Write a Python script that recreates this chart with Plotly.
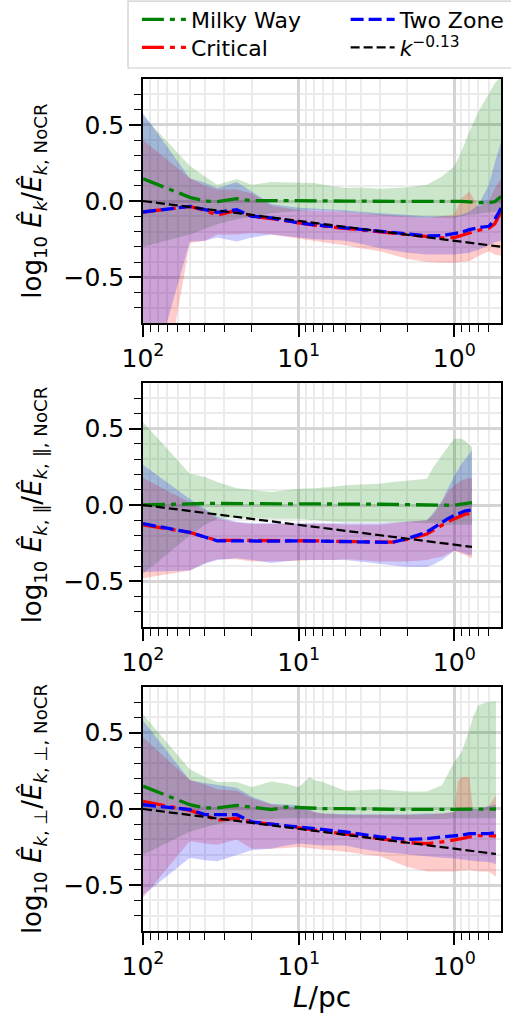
import plotly.graph_objects as go

# ---------------- data ----------------
# Panel 1: total
L1 = [100, 50, 40, 33.3, 25, 20, 15, 10, 8, 6, 5, 4, 3, 2, 1.5, 1.2, 1.0, 0.9, 0.8, 0.7, 0.6, 0.55, 0.5]
mw1 = [0.146, 0.024, 0.0, -0.004, 0.015, 0.002, 0.003, 0.004, 0.002, 0.0, -0.001, -0.002, -0.003, -0.002, -0.003, -0.002, -0.003, -0.003, -0.004, -0.010, -0.012, -0.005, 0.030]
mw1_hi = [0.56, 0.23, 0.16, 0.107, 0.144, 0.107, 0.124, 0.12, 0.118, 0.096, 0.085, 0.088, 0.08, 0.09, 0.107, 0.16, 0.227, 0.325, 0.456, 0.587, 0.70, 0.77, 0.82]
mw1_lo = [-0.30, -0.22, -0.18, -0.15, -0.12, -0.10, -0.08, -0.065, -0.06, -0.065, -0.07, -0.08, -0.095, -0.105, -0.11, -0.11, -0.11, -0.10, -0.09, -0.08, -0.075, -0.07, -0.06]
crit1 = [-0.072, -0.035, -0.062, -0.092, -0.062, -0.10, -0.115, -0.146, -0.158, -0.172, -0.18, -0.192, -0.205, -0.222, -0.236, -0.242, -0.24, -0.228, -0.21, -0.192, -0.178, -0.15, -0.07]
crit1_hi = [0.40, 0.15, 0.10, 0.075, 0.075, 0.05, -0.03, -0.06, -0.065, -0.07, -0.07, -0.08, -0.09, -0.10, -0.11, -0.10, -0.09, 0.02, 0.063, -0.04, 0.0, 0.08, 0.15]
crit1_lo = [-2.0, -0.275, -0.26, -0.22, -0.22, -0.21, -0.22, -0.245, -0.26, -0.28, -0.29, -0.31, -0.33, -0.38, -0.40, -0.405, -0.405, -0.40, -0.395, -0.36, -0.33, -0.35, -0.36]
tz1 = [-0.072, -0.035, -0.057, -0.074, -0.057, -0.10, -0.11, -0.144, -0.155, -0.168, -0.177, -0.19, -0.199, -0.216, -0.229, -0.227, -0.216, -0.205, -0.188, -0.175, -0.166, -0.122, -0.046]
tz1_hi = [0.576, 0.15, 0.12, 0.085, 0.124, 0.06, -0.02, -0.045, -0.05, -0.06, -0.06, -0.07, -0.08, -0.09, -0.10, -0.10, -0.10, -0.09, -0.07, -0.024, 0.107, 0.25, 0.39]
tz1_lo = [-1.35, -0.265, -0.26, -0.24, -0.265, -0.24, -0.22, -0.24, -0.25, -0.255, -0.26, -0.28, -0.31, -0.34, -0.35, -0.35, -0.35, -0.345, -0.34, -0.32, -0.29, -0.27, -0.26]
pl1 = [0.0, -0.30]          # k^-0.13 reference line values at L1 ends

# Panel 2: parallel
L2 = [100, 50, 40, 33.3, 25, 20, 15, 10, 8, 6, 5, 4, 3, 2.5, 2, 1.5, 1.36, 1.2, 1.1, 1.0, 0.9, 0.85, 0.77]
mw2 = [0.0, 0.01, 0.01, 0.01, 0.01, 0.01, 0.008, 0.008, 0.006, 0.006, 0.006, 0.005, 0.005, 0.004, 0.002, 0.0, -0.002, -0.002, 0.0, -0.002, 0.005, 0.01, 0.015]
mw2_hi = [0.544, 0.205, 0.183, 0.15, 0.11, 0.10, 0.085, 0.107, 0.11, 0.12, 0.13, 0.135, 0.14, 0.15, 0.16, 0.172, 0.25, 0.33, 0.38, 0.435, 0.435, 0.42, 0.38]
mw2_lo = [-0.45, -0.2, -0.13, -0.09, -0.085, -0.085, -0.09, -0.09, -0.10, -0.11, -0.115, -0.115, -0.115, -0.115, -0.115, -0.12, -0.12, -0.13, -0.13, -0.13, -0.13, -0.13, -0.13]
crit2 = [-0.13, -0.18, -0.21, -0.232, -0.232, -0.232, -0.234, -0.232, -0.235, -0.238, -0.24, -0.243, -0.245, -0.243, -0.225, -0.19, -0.165, -0.13, -0.11, -0.09, -0.07, -0.06, -0.055]
crit2_hi = [0.177, 0.02, -0.035, -0.09, -0.115, -0.125, -0.125, -0.125, -0.125, -0.125, -0.13, -0.13, -0.13, -0.12, -0.11, -0.10, -0.06, 0.02, 0.085, 0.13, 0.16, 0.17, 0.177]
crit2_lo = [-0.48, -0.43, -0.38, -0.355, -0.355, -0.37, -0.37, -0.365, -0.36, -0.36, -0.355, -0.36, -0.37, -0.37, -0.37, -0.36, -0.35, -0.34, -0.32, -0.30, -0.32, -0.33, -0.35]
tz2 = [-0.122, -0.18, -0.21, -0.235, -0.235, -0.237, -0.237, -0.235, -0.237, -0.24, -0.242, -0.245, -0.247, -0.245, -0.22, -0.177, -0.15, -0.111, -0.09, -0.068, -0.045, -0.038, -0.033]
tz2_hi = [0.264, 0.04, -0.024, -0.079, -0.11, -0.12, -0.12, -0.12, -0.12, -0.12, -0.12, -0.12, -0.12, -0.115, -0.11, -0.10, -0.05, 0.03, 0.107, 0.19, 0.27, 0.30, 0.36]
tz2_lo = [-0.44, -0.43, -0.385, -0.36, -0.35, -0.36, -0.38, -0.36, -0.36, -0.36, -0.36, -0.37, -0.385, -0.395, -0.406, -0.406, -0.39, -0.36, -0.33, -0.30, -0.31, -0.32, -0.33]
pl2 = [0.0, -0.275]

# Panel 3: perpendicular
L3 = [100, 50, 40, 33.3, 25, 20, 15, 12, 10, 8.5, 8, 7, 5, 4, 3, 2, 1.5, 1.2, 1.0, 0.95, 0.9, 0.8, 0.76, 0.7, 0.6, 0.54]
mw3 = [0.15, 0.028, 0.007, 0.007, 0.024, 0.013, -0.004, 0.013, 0.009, 0.005, 0.005, 0.003, 0.002, 0.0, -0.002, -0.003, -0.003, -0.003, -0.002, -0.002, -0.002, -0.001, -0.001, 0.0, 0.0, 0.0]
mw3_hi = [0.62, 0.26, 0.21, 0.177, 0.177, 0.144, 0.18, 0.165, 0.142, 0.21, 0.19, 0.177, 0.12, 0.125, 0.13, 0.115, 0.115, 0.155, 0.31, 0.34, 0.37, 0.52, 0.60, 0.68, 0.705, 0.705]
mw3_lo = [-0.30, -0.15, -0.12, -0.10, -0.08, -0.07, -0.065, -0.06, -0.06, -0.06, -0.06, -0.06, -0.06, -0.06, -0.06, -0.065, -0.065, -0.065, -0.06, -0.06, -0.06, -0.06, -0.06, -0.06, -0.06, -0.06]
crit3 = [0.05, -0.009, -0.04, -0.074, -0.06, -0.085, -0.10, -0.113, -0.122, -0.13, -0.135, -0.142, -0.16, -0.175, -0.194, -0.22, -0.227, -0.216, -0.205, -0.2, -0.195, -0.183, -0.178, -0.175, -0.175, -0.177]
crit3_hi = [0.47, 0.19, 0.16, 0.13, 0.12, 0.07, 0.03, 0.02, 0.0, -0.01, -0.02, -0.03, -0.04, -0.04, -0.04, -0.04, -0.035, -0.03, -0.02, 0.18, 0.21, 0.21, 0.0, -0.01, 0.02, 0.09]
crit3_lo = [-0.58, -0.21, -0.227, -0.234, -0.20, -0.26, -0.26, -0.255, -0.25, -0.255, -0.26, -0.265, -0.28, -0.295, -0.31, -0.38, -0.41, -0.41, -0.41, -0.41, -0.405, -0.40, -0.405, -0.41, -0.41, -0.445]
tz3 = [0.028, -0.004, -0.037, -0.037, -0.037, -0.085, -0.096, -0.11, -0.118, -0.125, -0.13, -0.138, -0.15, -0.165, -0.183, -0.2, -0.194, -0.183, -0.177, -0.175, -0.172, -0.162, -0.162, -0.162, -0.162, -0.155]
tz3_hi = [0.58, 0.188, 0.17, 0.16, 0.14, 0.08, 0.035, 0.03, 0.024, 0.0, -0.02, -0.03, -0.035, -0.035, -0.035, -0.035, -0.03, -0.03, -0.02, -0.01, -0.01, -0.01, 0.0, 0.0, 0.02, 0.03]
tz3_lo = [-0.565, -0.32, -0.336, -0.343, -0.303, -0.27, -0.26, -0.24, -0.227, -0.23, -0.235, -0.24, -0.24, -0.26, -0.28, -0.30, -0.31, -0.32, -0.325, -0.33, -0.33, -0.336, -0.34, -0.345, -0.347, -0.36]
pl3 = [0.0, -0.295]

series_names = ["Milky Way", "Critical", "Two Zone", "<i>k</i><sup>\u22120.13</sup>"]
x_tick_vals = [100, 10, 1]
x_tick_text = ["10<sup>2</sup>", "10<sup>1</sup>", "10<sup>0</sup>"]
y_tick_vals = [-0.5, 0.0, 0.5]
y_tick_text = ["\u22120.5", "0.0", "0.5"]
y_titles = [
    "log<sub>10</sub> <i>\u00ca</i><sub><i>k</i></sub>/<i>\u00ca</i><sub><i>k</i>, NoCR</sub>",
    "log<sub>10</sub> <i>\u00ca</i><sub><i>k</i>, \u2225</sub>/<i>\u00ca</i><sub><i>k</i>, \u2225, NoCR</sub>",
    "log<sub>10</sub> <i>\u00ca</i><sub><i>k</i>, \u22a5</sub>/<i>\u00ca</i><sub><i>k</i>, \u22a5, NoCR</sub>",
]
x_title = "<i>L</i>/pc"

# ---------------- figure ----------------
FONT = "DejaVu Sans"
GREEN, RED, BLUE = "#008000", "#ff0000", "#0000ff"
BAND = {"g": "rgba(0,128,0,0.2)", "r": "rgba(255,0,0,0.2)", "b": "rgba(0,0,255,0.2)"}

panels = [
    (L1, mw1, mw1_hi, mw1_lo, crit1, crit1_hi, crit1_lo, tz1, tz1_hi, tz1_lo, pl1),
    (L2, mw2, mw2_hi, mw2_lo, crit2, crit2_hi, crit2_lo, tz2, tz2_hi, tz2_lo, pl2),
    (L3, mw3, mw3_hi, mw3_lo, crit3, crit3_hi, crit3_lo, tz3, tz3_hi, tz3_lo, pl3),
]

fig = go.Figure()


def band(x, hi, lo, color, xa, ya):
    return go.Scatter(x=list(x) + list(x)[::-1], y=list(hi) + list(lo)[::-1],
                      fill="toself", fillcolor=color, mode="lines",
                      line=dict(width=0, color=color), showlegend=False,
                      hoverinfo="skip", xaxis=xa, yaxis=ya)


for i, (L, mw, mwh, mwl, cr, crh, crl, tz, tzh, tzl, pl) in enumerate(panels):
    n = "" if i == 0 else str(i + 1)
    xa, ya = "x" + n, "y" + n
    first = (i == 0)
    fig.add_trace(band(L, mwh, mwl, BAND["g"], xa, ya))
    fig.add_trace(band(L, crh, crl, BAND["r"], xa, ya))
    fig.add_trace(band(L, tzh, tzl, BAND["b"], xa, ya))
    fig.add_trace(go.Scatter(x=L, y=mw, mode="lines", name=series_names[0],
                             line=dict(color=GREEN, width=3.3, dash="22px,6px,5px,6px"),
                             showlegend=first, legend="legend", xaxis=xa, yaxis=ya))
    fig.add_trace(go.Scatter(x=L, y=cr, mode="lines", name=series_names[1],
                             line=dict(color=RED, width=3.3, dash="22px,6px,5px,6px"),
                             showlegend=first, legend="legend3", xaxis=xa, yaxis=ya))
    fig.add_trace(go.Scatter(x=L, y=tz, mode="lines", name=series_names[2],
                             line=dict(color=BLUE, width=3.3, dash="13px,5px"),
                             showlegend=first, legend="legend2", xaxis=xa, yaxis=ya))
    fig.add_trace(go.Scatter(x=[L[0], L[-1]], y=pl, mode="lines", name=series_names[3],
                             line=dict(color="black", width=2.2, dash="9px,4px"),
                             showlegend=first, legend="legend4", xaxis=xa, yaxis=ya))

x_minor = [0.5, 0.6, 0.7, 0.8, 0.9] + list(range(2, 10)) + list(range(20, 100, 10))
y_minor = [-0.7, -0.6, -0.4, -0.3, -0.2, -0.1, 0.1, 0.2, 0.3, 0.4, 0.6, 0.7]

domains = [[0.7136, 1.0], [0.3568, 0.6432], [0.0, 0.2864]]

layout = dict(
    width=511, height=1019,
    margin=dict(l=143, r=10, t=79, b=88, autoexpand=False),
    paper_bgcolor="white", plot_bgcolor="white",
    font=dict(family=FONT, color="black"),
    showlegend=True,
)

for i in range(3):
    n = "" if i == 0 else str(i + 1)
    layout["xaxis" + n] = dict(
        domain=[0, 1], anchor="y" + n, type="log", range=[2, -0.3],
        showline=True, linecolor="black", linewidth=1.5, mirror=True,
        ticks="outside", ticklen=12, tickwidth=1.5, tickcolor="black",
        tickmode="array", tickvals=x_tick_vals, ticktext=x_tick_text,
        tickfont=dict(family=FONT, size=25, color="black"),
        showgrid=True, gridcolor="#d4d4d4", gridwidth=3, zeroline=False,
        automargin=False,
        minor=dict(tickmode="array", tickvals=x_minor, ticks="outside", ticklen=7,
                   tickwidth=1.2, tickcolor="black", showgrid=True,
                   gridcolor="#ebebeb", gridwidth=1.5),
        title=dict(text=x_title if i == 2 else "", font=dict(family=FONT, size=28),
                   standoff=4),
    )
    layout["yaxis" + n] = dict(
        domain=domains[i], anchor="x" + n, range=[-0.8, 0.8],
        showline=True, linecolor="black", linewidth=1.5, mirror=True,
        ticks="outside", ticklen=12, tickwidth=1.5, tickcolor="black",
        tickmode="array", tickvals=y_tick_vals, ticktext=y_tick_text,
        tickfont=dict(family=FONT, size=25, color="black"),
        showgrid=True, gridcolor="#d4d4d4", gridwidth=3, zeroline=False,
        automargin=False,
        minor=dict(tickmode="array", tickvals=y_minor, ticks="outside", ticklen=7,
                   tickwidth=1.2, tickcolor="black", showgrid=True,
                   gridcolor="#ebebeb", gridwidth=1.5),
        title=dict(text=y_titles[i], font=dict(family=FONT, size=26), standoff=14),
    )

legend_common = dict(
    orientation="v", xanchor="left", yanchor="top", bgcolor="rgba(0,0,0,0)",
    borderwidth=0, font=dict(family=FONT, size=22, color="black"),
    itemwidth=44, tracegroupgap=0,
)
row1_y, row2_y = 1.0945, 1.0615
col1_x, col2_x = -0.017, 0.566
layout["legend"] = dict(legend_common, x=col1_x, y=row1_y)
layout["legend2"] = dict(legend_common, x=col2_x, y=row1_y)
layout["legend3"] = dict(legend_common, x=col1_x, y=row2_y)
layout["legend4"] = dict(legend_common, x=col2_x, y=row2_y)

layout["shapes"] = [dict(type="rect", xref="paper", yref="paper",
                         x0=-0.0419, x1=1.10, y0=1.0129, y1=1.0915,
                         line=dict(color="#cccccc", width=1.2),
                         fillcolor="rgba(255,255,255,0.8)", layer="above")]

fig.update_layout(**layout)
fig.write_html("out.html")
